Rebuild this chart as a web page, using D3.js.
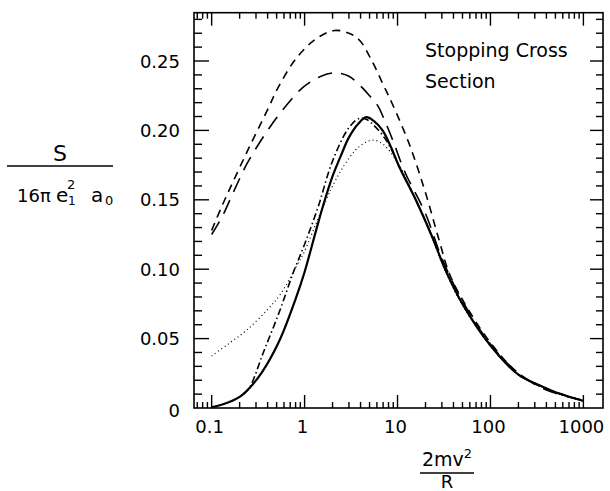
<!DOCTYPE html>
<html><head><meta charset="utf-8">
<script src="https://cdn.jsdelivr.net/npm/d3@7"></script>
<style>body{margin:0;background:#fff}svg{display:block}text{font-family:"DejaVu Sans",sans-serif;fill:#000}</style>
</head><body><svg id="c" width="610" height="491"></svg>
<script>
// ---- data ----
const xTickLabels = ["0.1", "1", "10", "100", "1000"];
const xTickValues = [0.1, 1, 10, 100, 1000];
const yTickValues = [0, 0.05, 0.10, 0.15, 0.20, 0.25];
const yTickLabels = ["0", "0.05", "0.10", "0.15", "0.20", "0.25"];

const solidX = [0.1,0.15,0.2,0.26,0.35,0.54,0.815,1,1.33,1.57,2,2.5,3,3.8,4.6,5.5,6.9,8.5,10.4,15.7,23.7,33,50,100,200,331,541,923,1000];
const solidY = [0.0005,0.004,0.008,0.015,0.026,0.049,0.080,0.098,0.128,0.145,0.167,0.183,0.195,0.205,0.2095,0.207,0.200,0.188,0.174,0.150,0.123,0.099,0.075,0.045,0.024,0.0166,0.0106,0.0058,0.0052];

const shortDashX = [0.1,0.13,0.17,0.25,0.4,0.52,0.815,1.33,2.1,3,3.9,5.4,6.9,8.8,13.4,20,28,36,50,100,200,400,1000];
const shortDashY = [0.128,0.146,0.163,0.187,0.215,0.231,0.252,0.266,0.272,0.270,0.265,0.249,0.234,0.219,0.19,0.155,0.121,0.097,0.078,0.047,0.025,0.0135,0.0055];

const longDashX = [0.1,0.13,0.17,0.24,0.4,0.585,0.96,1.5,2.1,3,4,5,6.1,7.5,9,12,20,30,50,100,200,400,1000];
const longDashY = [0.125,0.138,0.155,0.176,0.200,0.215,0.231,0.239,0.2415,0.239,0.232,0.225,0.218,0.205,0.192,0.170,0.140,0.108,0.077,0.046,0.025,0.013,0.0055];

const dashDotX = [0.22,0.257,0.36,0.54,0.75,1.0,1.4,2.0,3.0,3.9,4.6,5.5,7,8.5,10.4,15.7,23.7,33,50,100,200,331,541,923,1000];
const dashDotY = [0.010,0.015,0.040,0.070,0.097,0.118,0.145,0.178,0.202,0.2087,0.208,0.204,0.196,0.187,0.174,0.150,0.123,0.099,0.075,0.045,0.024,0.0166,0.0106,0.0058,0.0052];

const dottedX = [0.1,0.15,0.237,0.4,0.55,0.815,1.0,1.33,1.71,2.0,3,4,5.4,7,10.4,15.7,23.7,33,50,100,200,331,541,923,1000];
const dottedY = [0.0375,0.046,0.056,0.071,0.082,0.102,0.113,0.133,0.150,0.160,0.180,0.189,0.193,0.190,0.175,0.150,0.122,0.098,0.074,0.045,0.024,0.0166,0.0106,0.0058,0.0052];

// ---- layout ----
const svg = d3.select("#c");
const L = 194, R = 603, T = 12.7, B = 408;
const x = d3.scaleLog().domain([Math.pow(10,-1.19), Math.pow(10,3.211)]).range([L, R]);
const y = d3.scaleLinear().domain([0, 0.2848]).range([B, T]);

// frame
svg.append("rect").attr("x",L).attr("y",T).attr("width",R-L).attr("height",B-T)
  .attr("fill","none").attr("stroke","#000").attr("stroke-width",1.6);

// ticks
const g = svg.append("g").attr("stroke","#000").attr("stroke-width",1.4);
const xMinor = [];
[0.01,0.1,1,10,100,1000].forEach(d => { for (let k=1;k<10;k++){ const v=d*k; if (v>=x.domain()[0] && v<=x.domain()[1]) xMinor.push(v);} });
xMinor.forEach(v => {
  const major = Math.abs(Math.log10(v) - Math.round(Math.log10(v))) < 1e-9;
  const len = major ? 13 : 6;
  g.append("line").attr("x1",x(v)).attr("x2",x(v)).attr("y1",B).attr("y2",B-len);
  g.append("line").attr("x1",x(v)).attr("x2",x(v)).attr("y1",T).attr("y2",T+len);
});
d3.range(1, 29).forEach(i => {
  const v = i/100;
  const major = i % 5 === 0;
  g.append("line").attr("x1",L).attr("x2",L+(major?15:8)).attr("y1",y(v)).attr("y2",y(v));
  g.append("line").attr("x1",R).attr("x2",R-(major?13:7)).attr("y1",y(v)).attr("y2",y(v));
});

// tick labels
xTickValues.forEach((v,i) => {
  svg.append("text").attr("x",x(v)-2).attr("y",433).attr("text-anchor","middle")
    .attr("font-size",18).text(xTickLabels[i]);
});
yTickValues.forEach((v,i) => {
  svg.append("text").attr("x",180).attr("y",y(v)+ (v===0?2:0)).attr("text-anchor","end")
    .attr("dominant-baseline","central").attr("font-size",18).text(yTickLabels[i]);
});

// curves
const line = d3.line().x(d=>x(d[0])).y(d=>y(d[1])).curve(d3.curveCatmullRom.alpha(0.5));
const zip = (a,b) => a.map((v,i)=>[v,b[i]]);
svg.append("path").attr("d", line(zip(dottedX,dottedY))).attr("fill","none").attr("stroke","#000")
  .attr("stroke-width",1.2).attr("stroke-dasharray","1,3");
svg.append("path").attr("d", line(zip(dashDotX,dashDotY))).attr("fill","none").attr("stroke","#000")
  .attr("stroke-width",1.6).attr("stroke-dasharray","7,3,1.5,3");
svg.append("path").attr("d", line(zip(longDashX,longDashY))).attr("fill","none").attr("stroke","#000")
  .attr("stroke-width",1.6).attr("stroke-dasharray","15,9");
svg.append("path").attr("d", line(zip(shortDashX,shortDashY))).attr("fill","none").attr("stroke","#000")
  .attr("stroke-width",1.6).attr("stroke-dasharray","8,6");
svg.append("path").attr("d", line(zip(solidX,solidY))).attr("fill","none").attr("stroke","#000")
  .attr("stroke-width",2.2);

// annotation
svg.append("text").attr("x",425).attr("y",57).attr("font-size",19).text("Stopping Cross");
svg.append("text").attr("x",425).attr("y",88).attr("font-size",19).text("Section");

// y title (fraction)
svg.append("text").attr("x",60).attr("y",161).attr("text-anchor","middle").attr("font-size",22).text("S");
svg.append("line").attr("x1",7).attr("x2",113).attr("y1",166).attr("y2",166).attr("stroke","#000").attr("stroke-width",1.6);
svg.append("text").attr("x",17).attr("y",202).attr("font-size",18).text("16π");
svg.append("text").attr("x",56).attr("y",202).attr("font-size",20).text("e");
svg.append("text").attr("x",67).attr("y",189).attr("font-size",13).text("2");
svg.append("text").attr("x",68).attr("y",205).attr("font-size",12).text("1");
svg.append("text").attr("x",91).attr("y",202).attr("font-size",20).text("a");
svg.append("text").attr("x",105).attr("y",205).attr("font-size",13).text("0");

// x title (fraction)
const xt = svg.append("text").attr("x",447).attr("y",466).attr("text-anchor","middle").attr("font-size",19);
xt.append("tspan").text("2mv");
xt.append("tspan").attr("font-size",13).attr("dy",-8).text("2");
svg.append("line").attr("x1",420).attr("x2",474).attr("y1",473).attr("y2",473).attr("stroke","#000").attr("stroke-width",1.6);
svg.append("text").attr("x",447).attr("y",488).attr("text-anchor","middle").attr("font-size",18).text("R");
</script></body></html>
